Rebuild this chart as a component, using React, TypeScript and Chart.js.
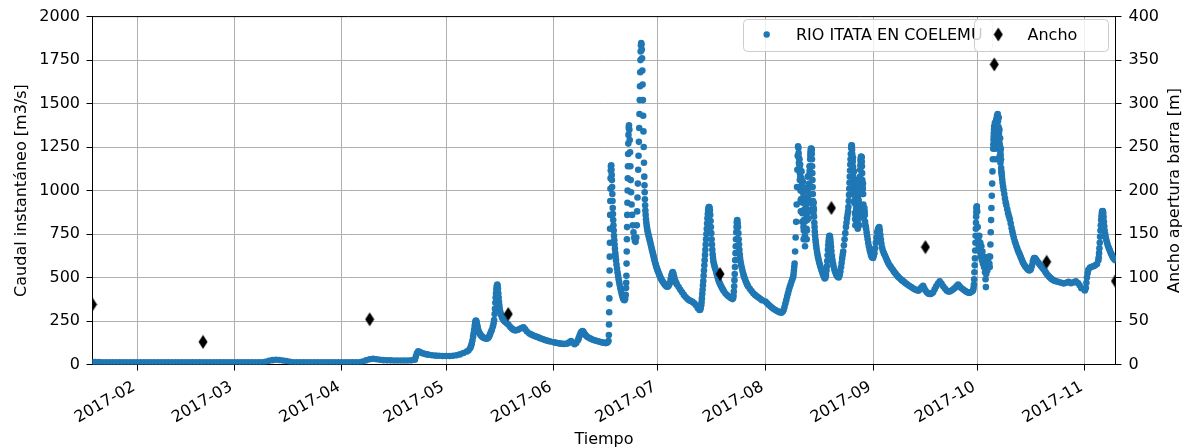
import React, { useEffect, useRef } from 'react';
import { Chart, registerables } from 'chart.js';

Chart.register(...registerables);

const DAY = 86400000;
const FONT = "'DejaVu Sans', sans-serif";
const AZUL = '#1f77b4';

// Caudal instantáneo, RIO ITATA EN COELEMU [m3/s]; pares [día del mes, caudal]
const caudalEnero: [number, number][] = [
  [19.2, 14], [20, 14], [21, 14], [22, 13], [23, 13], [24, 13], [25, 13], [26, 12], [27, 12], [28, 12], [29, 12], [30, 12], [31, 12],
];
const caudalFebrero: [number, number][] = [
  [1, 12], [2, 12], [3, 12], [4, 12], [5, 12], [6, 12], [7, 12], [8, 12], [9, 12], [10, 12], [11, 12], [12, 12], [13, 12], [14, 12],
  [15, 12], [16, 12], [17, 12], [18, 12], [19, 12], [20, 12], [21, 12], [22, 12], [23, 12], [24, 12], [25, 12], [26, 12], [27, 12], [28, 12],
];
const caudalMarzo: [number, number][] = [
  [1, 12], [2, 12], [3, 12], [4, 12], [5, 12], [6, 12], [7, 12], [8, 12], [9, 12], [10, 16], [11, 21], [12, 25], [13, 27], [14, 26],
  [15, 23], [16, 20], [17, 16], [18, 13], [19, 13], [20, 13], [21, 13], [22, 13], [23, 13], [24, 13], [25, 13], [26, 13], [27, 13],
  [28, 13], [29, 13], [30, 13], [31, 13],
];
const caudalAbril: [number, number][] = [
  [1, 13], [2, 13], [3, 13], [4, 13], [5, 13], [6, 13], [7, 17], [8, 24], [9, 30], [10, 33], [11, 30], [12, 27], [13, 25], [14, 24],
  [15, 24], [16, 23], [17, 23], [18, 23], [19, 23], [20, 23], [21, 24], [22, 28], [22.3, 45], [22.6, 65], [23, 76], [23.5, 72],
  [24, 66], [24.5, 63], [25, 60], [25.5, 58], [26, 56], [27, 53], [28, 51], [29, 50], [30, 49],
];
const caudalMayo: [number, number][] = [
  [1, 49], [2, 49], [3, 50], [4, 53], [5, 58], [6, 66], [7, 75], [7.5, 82], [8, 95], [8.2, 106], [8.4, 120], [8.6, 138], [8.8, 160],
  [8.95, 180], [9.1, 200], [9.25, 222], [9.4, 240], [9.5, 248], [9.6, 252], [9.7, 250], [9.8, 242], [9.9, 232], [10, 222],
  [10.1, 212], [10.25, 200], [10.4, 190], [10.6, 182], [10.8, 175], [11, 168], [11.25, 163], [11.5, 158], [11.75, 155], [12, 152],
  [12.35, 150], [12.7, 148], [13, 151], [13.2, 155], [13.45, 163], [13.7, 175], [13.95, 188], [14.2, 200], [14.5, 218],
  [14.7, 235], [14.85, 255], [15, 290], [15.1, 320], [15.2, 355], [15.3, 385], [15.4, 410], [15.5, 432], [15.6, 450],
  [15.75, 460], [15.85, 452], [15.95, 435], [16.05, 410], [16.15, 385], [16.25, 360], [16.35, 340], [16.45, 322], [16.6, 305],
  [16.8, 290], [17, 278], [17.2, 268], [17.4, 261], [17.6, 255], [17.8, 250], [18, 246], [18.5, 237], [19, 228], [19.5, 216],
  [20, 206], [20.5, 199], [21, 196], [21.5, 198], [22, 202], [22.7, 210], [23.3, 214], [23.8, 202], [24.3, 190], [25, 178],
  [25.5, 173], [26, 168], [26.5, 164], [27, 160], [27.5, 156], [28, 152], [28.5, 148], [29, 145], [29.5, 141], [30, 138],
  [30.5, 135], [31, 132],
];
const caudalJunio: [number, number][] = [
  [1, 128], [1.5, 126], [2, 124], [2.5, 122], [3, 120], [3.5, 119], [4, 118], [4.5, 119], [5, 121], [5.5, 127], [6, 135],
  [6.5, 126], [7, 117], [7.5, 123], [8, 140], [8.25, 153], [8.5, 168], [8.75, 180], [9, 188], [9.3, 193], [9.5, 189], [9.7, 182],
  [10, 173], [10.2, 168], [10.6, 161], [11, 155], [11.5, 150], [12, 145], [12.5, 141], [13, 138], [13.5, 135], [14, 132],
  [14.5, 129], [15, 127], [15.5, 125], [16, 123], [16.5, 126], [16.8, 135], [16.9, 170], [16.95, 230], [17, 300], [17.04, 380],
  [17.08, 460], [17.12, 540], [17.16, 620], [17.2, 700], [17.24, 780], [17.28, 860], [17.32, 940], [17.36, 1010], [17.4, 1070],
  [17.45, 1115], [17.5, 1140], [17.58, 1145], [17.66, 1120], [17.72, 1090], [17.78, 1060], [17.84, 1020], [17.9, 980],
  [17.96, 940], [18.02, 900], [18.08, 865], [18.15, 830], [18.22, 800], [18.3, 770], [18.38, 740], [18.46, 715], [18.55, 690],
  [18.65, 665], [18.75, 640], [18.85, 620], [18.95, 600], [19.1, 575], [19.25, 552], [19.4, 530], [19.55, 510], [19.7, 492],
  [19.85, 475], [20, 458], [20.2, 440], [20.4, 422], [20.6, 405], [20.8, 392], [21, 380], [21.2, 372], [21.4, 370], [21.6, 378],
  [21.75, 400], [21.85, 440], [21.9, 470], [21.95, 510], [22, 580], [22.05, 650], [22.1, 720], [22.15, 790], [22.2, 860],
  [22.25, 930], [22.3, 1000], [22.35, 1070], [22.4, 1140], [22.45, 1210], [22.5, 1270], [22.55, 1320], [22.62, 1360],
  [22.7, 1375], [22.8, 1350], [22.9, 1290], [23, 1220], [23.1, 1140], [23.2, 1060], [23.3, 990], [23.45, 920], [23.6, 860],
  [23.8, 800], [24, 760], [24.2, 730], [24.4, 712], [24.6, 705], [24.8, 730], [24.95, 800], [25.05, 880], [25.15, 960],
  [25.25, 1040], [25.35, 1120], [25.45, 1200], [25.55, 1280], [25.65, 1360], [25.72, 1440], [25.8, 1520], [25.87, 1600],
  [25.94, 1680], [26, 1750], [26.07, 1800], [26.14, 1835], [26.22, 1848], [26.3, 1840], [26.38, 1810], [26.46, 1760],
  [26.54, 1690], [26.62, 1610], [26.7, 1520], [26.78, 1430], [26.86, 1340], [26.94, 1250], [27.02, 1160], [27.1, 1080],
  [27.16, 1030], [27.22, 990], [27.28, 950], [27.35, 915], [27.42, 885], [27.5, 860], [27.6, 835], [27.7, 815], [27.8, 798],
  [27.9, 785], [28, 772], [28.15, 758], [28.3, 745], [28.45, 732], [28.6, 720], [28.75, 708], [28.9, 695], [29.05, 682],
  [29.2, 670], [29.35, 657], [29.5, 645], [29.65, 633], [29.8, 620], [29.95, 608], [30.1, 595], [30.25, 585], [30.4, 574],
  [30.55, 564], [30.7, 555], [30.85, 546],
];
const caudalJulio: [number, number][] = [
  [1, 538], [1.2, 528], [1.4, 518], [1.6, 508], [1.8, 499], [2, 490], [2.25, 481], [2.5, 474], [2.75, 467], [3, 460], [3.25, 454],
  [3.5, 448], [3.75, 447], [4, 450], [4.25, 458], [4.5, 470], [4.7, 490], [4.9, 510], [5.1, 525], [5.3, 531], [5.5, 522],
  [5.7, 505], [5.9, 488], [6.1, 477], [6.3, 468], [6.5, 460], [7, 445], [7.5, 430], [8, 415], [8.5, 400], [9, 388], [9.5, 378],
  [10, 370], [10.5, 365], [11, 360], [11.5, 352], [12, 340], [12.5, 325], [13, 313], [13.2, 315], [13.35, 325], [13.5, 340],
  [13.6, 358], [13.7, 380], [13.8, 405], [13.9, 430], [14, 455], [14.1, 480], [14.2, 510], [14.3, 540], [14.4, 570], [14.5, 600],
  [14.6, 630], [14.7, 660], [14.8, 690], [14.9, 720], [15, 750], [15.1, 780], [15.2, 810], [15.3, 840], [15.4, 865], [15.5, 885],
  [15.6, 898], [15.7, 905], [15.8, 905], [15.9, 900], [16, 885], [16.1, 860], [16.2, 825], [16.3, 790], [16.4, 755], [16.5, 720],
  [16.6, 690], [16.7, 660], [16.8, 634], [16.9, 612], [17, 595], [17.15, 580], [17.3, 568], [17.45, 558], [17.6, 548],
  [17.8, 533], [18, 518], [18.2, 503], [18.4, 490], [18.6, 478], [18.8, 468], [19, 460], [19.25, 450], [19.5, 440],
  [19.75, 431], [20, 422], [20.5, 408], [21, 398], [21.5, 390], [22, 383], [22.5, 376], [22.7, 382], [22.8, 395], [22.9, 420],
  [23, 450], [23.08, 485], [23.15, 520], [23.22, 560], [23.3, 600], [23.38, 640], [23.45, 680], [23.52, 720], [23.6, 760],
  [23.68, 790], [23.75, 815], [23.82, 826], [23.9, 830], [24, 812], [24.1, 790], [24.2, 755], [24.3, 720], [24.4, 690],
  [24.5, 660], [24.6, 633], [24.7, 610], [24.85, 590], [25, 572], [25.2, 555], [25.4, 538], [25.6, 522], [25.8, 508], [26, 496],
  [26.25, 482], [26.5, 470], [26.75, 459], [27, 450], [27.5, 435], [28, 422], [28.5, 410], [29, 400], [29.5, 392], [30, 385],
  [30.5, 378], [31, 370],
];
const caudalAgosto: [number, number][] = [
  [1, 362], [1.5, 352], [2, 342], [2.5, 333], [3, 325], [3.5, 318], [4, 312], [4.5, 306], [5, 301], [5.6, 298], [6, 305],
  [6.25, 315], [6.5, 330], [6.75, 350], [7, 370], [7.25, 390], [7.5, 410], [7.75, 428], [8, 445], [8.25, 460], [8.5, 475],
  [8.75, 490], [9, 505], [9.1, 520], [9.2, 540], [9.3, 560], [9.4, 580], [9.55, 650], [9.7, 730], [9.85, 820], [10, 920],
  [10.1, 1020], [10.2, 1120], [10.3, 1200], [10.4, 1255], [10.5, 1245], [10.55, 1215], [10.6, 1190], [10.65, 1160],
  [10.7, 1120], [10.75, 1150], [10.8, 1180], [10.85, 1130], [10.9, 1060], [10.95, 1100], [11, 1150], [11.05, 1080], [11.1, 1000],
  [11.15, 940], [11.2, 880], [11.25, 950], [11.3, 1020], [11.35, 1070], [11.4, 1110], [11.45, 1030], [11.5, 950], [11.55, 880],
  [11.6, 820], [11.65, 870], [11.7, 930], [11.75, 990], [11.8, 1050], [11.85, 960], [11.9, 880], [11.95, 790], [12, 720],
  [12.05, 770], [12.1, 830], [12.15, 890], [12.2, 960], [12.25, 880], [12.3, 820], [12.35, 740], [12.4, 680], [12.45, 720],
  [12.5, 770], [12.55, 830], [12.6, 900], [12.65, 950], [12.7, 1000], [12.75, 920], [12.8, 860], [12.85, 780], [12.9, 720],
  [12.95, 770], [13, 830], [13.05, 890], [13.1, 960], [13.15, 1020], [13.2, 1080], [13.25, 1010], [13.3, 960], [13.35, 890],
  [13.4, 840], [13.45, 880], [13.5, 930], [13.55, 980], [13.6, 1040], [13.65, 1090], [13.7, 1140], [13.75, 1115], [13.8, 1100],
  [13.85, 1140], [13.9, 1180], [13.95, 1200], [14, 1215], [14.05, 1225], [14.1, 1235], [14.15, 1240], [14.2, 1242],
  [14.25, 1238], [14.3, 1232], [14.35, 1210], [14.4, 1180], [14.45, 1140], [14.5, 1100], [14.55, 1060], [14.6, 1020],
  [14.65, 980], [14.7, 940], [14.75, 905], [14.8, 870], [14.85, 900], [14.9, 930], [14.95, 890], [15, 850], [15.08, 815],
  [15.15, 790], [15.22, 765], [15.3, 742], [15.4, 720], [15.5, 702], [15.6, 685], [15.7, 668], [15.85, 648], [16, 632],
  [16.15, 616], [16.3, 602], [16.5, 586], [16.7, 572], [16.9, 558], [17.1, 546], [17.3, 534], [17.5, 522], [17.7, 512],
  [17.9, 503], [18.1, 495], [18.3, 500], [18.45, 515], [18.6, 540], [18.7, 565], [18.8, 595], [18.9, 628], [19, 660],
  [19.1, 686], [19.2, 708], [19.3, 726], [19.4, 738], [19.5, 740], [19.6, 735], [19.7, 718], [19.8, 700], [19.9, 676], [20, 652],
  [20.15, 625], [20.3, 602], [20.45, 582], [20.6, 566], [20.8, 550], [21, 538], [21.2, 527], [21.4, 518], [21.6, 510],
  [21.8, 505], [22.1, 500], [22.4, 515], [22.6, 535], [22.8, 560], [22.95, 585], [23.1, 610], [23.25, 630], [23.4, 650],
  [23.6, 685], [23.8, 720], [24, 755], [24.2, 790], [24.35, 815], [24.5, 840], [24.65, 860], [24.8, 880], [24.9, 905], [25, 940],
  [25.08, 975], [25.15, 1010], [25.22, 1045], [25.3, 1080], [25.38, 1115], [25.45, 1150], [25.52, 1180], [25.6, 1210],
  [25.7, 1245], [25.8, 1260], [25.85, 1258], [25.9, 1255], [25.95, 1235], [26, 1210], [26.05, 1175], [26.1, 1140],
  [26.15, 1165], [26.2, 1190], [26.25, 1135], [26.3, 1080], [26.35, 1035], [26.4, 990], [26.45, 1050], [26.5, 1110],
  [26.55, 1020], [26.6, 930], [26.65, 975], [26.7, 1020], [26.75, 945], [26.8, 870], [26.85, 835], [26.9, 800], [26.95, 860],
  [27, 920], [27.05, 875], [27.1, 830], [27.15, 895], [27.2, 960], [27.25, 1010], [27.3, 1060], [27.35, 995], [27.4, 930],
  [27.45, 875], [27.5, 820], [27.55, 800], [27.6, 780], [27.65, 840], [27.7, 900], [27.75, 950], [27.8, 1000], [27.85, 940],
  [27.9, 880], [27.95, 840], [28, 800], [28.05, 860], [28.1, 920], [28.15, 980], [28.2, 1040], [28.25, 1080], [28.3, 1120],
  [28.35, 1145], [28.4, 1170], [28.45, 1180], [28.5, 1190], [28.55, 1193], [28.6, 1195], [28.65, 1193], [28.7, 1190],
  [28.75, 1165], [28.8, 1140], [28.85, 1100], [28.9, 1060], [28.95, 1020], [29, 980], [29.05, 1010], [29.1, 1040],
  [29.15, 980], [29.2, 920], [29.25, 900], [29.3, 880], [29.35, 865], [29.4, 850], [29.45, 875], [29.5, 900], [29.55, 880],
  [29.6, 860], [29.7, 820], [29.8, 800], [29.9, 790], [30, 780], [30.15, 760], [30.3, 740], [30.45, 720], [30.6, 700],
  [30.8, 680], [31, 660], [31.2, 645], [31.4, 630], [31.6, 620], [31.8, 615],
];
const caudalSeptiembre: [number, number][] = [
  [1, 612], [1.2, 625], [1.4, 640], [1.6, 668], [1.8, 700], [2, 730], [2.2, 760], [2.4, 776], [2.6, 786], [2.8, 790],
  [2.95, 772], [3.1, 745], [3.25, 718], [3.4, 695], [3.6, 673], [3.8, 655], [4.1, 640], [4.4, 628], [4.7, 614], [5, 600],
  [5.3, 587], [5.6, 575], [6, 564], [6.3, 555], [6.7, 544], [7, 535], [7.3, 527], [7.6, 520], [7.9, 512], [8.2, 505], [8.6, 497],
  [9, 490], [9.3, 485], [9.6, 480], [9.9, 475], [10.2, 470], [10.6, 464], [11, 458], [11.5, 451], [12, 445], [12.5, 438],
  [13, 432], [13.5, 428], [14, 424], [14.35, 430], [14.7, 438], [15.05, 445], [15.4, 452], [15.75, 438], [16.1, 425],
  [16.5, 415], [16.9, 408], [17.25, 405], [17.6, 405], [17.95, 410], [18.3, 415], [18.75, 432], [19.2, 450], [19.7, 466],
  [20.2, 478], [20.7, 465], [21.2, 450], [21.7, 437], [22.2, 425], [22.65, 420], [23.1, 420], [23.6, 425], [24.1, 432],
  [24.55, 440], [25, 450], [25.5, 460], [25.95, 450], [26.4, 440], [26.9, 432], [27.4, 425], [27.8, 420], [28.2, 415],
  [28.55, 413], [28.9, 412], [29.4, 418], [29.8, 425], [29.95, 440], [30.05, 460], [30.12, 490], [30.2, 530], [30.28, 570],
  [30.35, 610], [30.42, 655], [30.5, 700], [30.55, 740], [30.6, 780], [30.65, 815], [30.7, 850], [30.75, 875], [30.8, 895],
  [30.85, 905], [30.9, 910],
];
const caudalOctubre: [number, number][] = [
  [1, 880], [1.15, 790], [1.3, 720], [1.45, 680], [1.6, 740], [1.75, 650], [1.9, 700], [2.05, 620], [2.2, 680], [2.35, 600],
  [2.5, 650], [2.65, 580], [2.8, 620], [2.95, 560], [3.1, 600], [3.25, 530], [3.4, 490], [3.5, 445], [3.6, 520], [3.75, 580],
  [3.9, 540], [4.05, 600], [4.2, 560], [4.35, 620], [4.5, 580], [4.6, 560], [4.7, 620], [4.8, 690], [4.9, 760], [5, 830],
  [5.1, 900], [5.2, 970], [5.3, 1040], [5.4, 1110], [5.5, 1180], [5.6, 1240], [5.65, 1265], [5.7, 1290], [5.75, 1310],
  [5.8, 1330], [5.85, 1350], [5.9, 1370], [5.95, 1330], [6, 1300], [6.05, 1350], [6.1, 1390], [6.15, 1310], [6.2, 1240],
  [6.25, 1295], [6.3, 1340], [6.35, 1255], [6.4, 1180], [6.45, 1300], [6.5, 1410], [6.55, 1345], [6.6, 1290], [6.65, 1365],
  [6.7, 1430], [6.75, 1390], [6.8, 1360], [6.85, 1405], [6.9, 1440], [6.95, 1415], [7, 1400], [7.05, 1345], [7.1, 1300],
  [7.15, 1365], [7.2, 1420], [7.25, 1330], [7.3, 1250], [7.35, 1305], [7.4, 1350], [7.45, 1270], [7.5, 1200], [7.55, 1255],
  [7.6, 1300], [7.65, 1225], [7.7, 1160], [7.75, 1205], [7.8, 1240], [7.85, 1180], [7.9, 1130], [7.95, 1110], [8, 1100],
  [8.1, 1085], [8.2, 1065], [8.3, 1045], [8.45, 1025], [8.6, 1005], [8.8, 980], [9, 955], [9.2, 932], [9.4, 915], [9.65, 892],
  [9.9, 870], [10.15, 852], [10.4, 835], [10.65, 810], [10.9, 785], [11.1, 766], [11.3, 748], [11.55, 728], [11.8, 710],
  [12.05, 695], [12.3, 680], [12.55, 666], [12.8, 652], [13.05, 641], [13.3, 630], [13.55, 617], [13.8, 605], [14, 595],
  [14.2, 585], [14.5, 575], [14.8, 565], [15.1, 557], [15.4, 550], [15.7, 545], [16, 540], [16.25, 543], [16.5, 550],
  [16.75, 568], [17, 590], [17.2, 603], [17.4, 612], [17.6, 612], [17.8, 608], [18.05, 600], [18.3, 592], [18.65, 584],
  [19, 575], [19.35, 566], [19.7, 558], [20.05, 549], [20.4, 540], [20.7, 531], [21, 522], [21.35, 513], [21.7, 505],
  [22.05, 498], [22.4, 492], [22.75, 487], [23.1, 483], [23.45, 480], [23.8, 478], [24.5, 474], [25.2, 470], [25.9, 466],
  [26.6, 470], [27.3, 476], [28, 467], [28.7, 472], [29.4, 478], [30, 468], [30.5, 455], [31, 438],
];
const caudalNoviembre: [number, number][] = [
  [1, 425], [1.3, 440], [1.45, 470], [1.6, 500], [1.8, 525], [2, 545], [2.5, 558], [3, 562], [3.5, 565], [4, 570], [4.5, 578],
  [4.9, 600], [5, 615], [5.1, 640], [5.2, 668], [5.3, 700], [5.4, 735], [5.5, 770], [5.6, 800], [5.7, 830], [5.8, 852],
  [5.9, 870], [6, 880], [6.1, 882], [6.2, 880], [6.3, 870], [6.4, 848], [6.5, 820], [6.6, 795], [6.7, 770], [6.85, 750],
  [7, 732], [7.2, 715], [7.4, 700], [7.6, 687], [7.8, 675], [8, 665], [8.2, 655], [8.4, 645], [8.6, 636], [8.8, 628], [9, 620],
  [9.2, 614], [9.4, 608], [9.6, 603], [9.8, 600],
];

// mes (0 = enero) de cada serie mensual
const seriesMensuales: [number, [number, number][]][] = [
  [0, caudalEnero], [1, caudalFebrero], [2, caudalMarzo], [3, caudalAbril], [4, caudalMayo], [5, caudalJunio],
  [6, caudalJulio], [7, caudalAgosto], [8, caudalSeptiembre], [9, caudalOctubre], [10, caudalNoviembre],
];

// Ancho de apertura de la barra [m]
const fechasAncho = [
  '2017-01-19T04:00Z', '2017-02-20T00:00Z', '2017-04-09T00:00Z', '2017-05-18T22:00Z', '2017-07-18T22:00Z',
  '2017-08-20T00:00Z', '2017-09-16T02:00Z', '2017-10-05T22:00Z', '2017-10-21T00:00Z', '2017-11-09T20:00Z',
];
const valoresAncho = [69, 26, 52, 58, 104, 180, 135, 345, 118, 96];

const etiquetasMes = [
  '2017-02', '2017-03', '2017-04', '2017-05', '2017-06', '2017-07', '2017-08', '2017-09', '2017-10', '2017-11',
];

const nombreSerie = 'RIO ITATA EN COELEMU';
const nombreAncho = 'Ancho';
const tituloX = 'Tiempo';
const tituloY = 'Caudal instantáneo [m3/s]';
const tituloY2 = 'Ancho apertura barra [m]';

function rombo(): HTMLCanvasElement {
  const c = document.createElement('canvas');
  c.width = 10;
  c.height = 15;
  const g = c.getContext('2d')!;
  g.fillStyle = '#000';
  g.beginPath();
  g.moveTo(5, 0.5);
  g.lineTo(9.5, 7.5);
  g.lineTo(5, 14.5);
  g.lineTo(0.5, 7.5);
  g.closePath();
  g.fill();
  return c;
}

function caja(ctx: CanvasRenderingContext2D, x: number, y: number, w: number, h: number) {
  ctx.beginPath();
  ctx.roundRect(x, y, w, h, 4);
  ctx.fillStyle = 'rgba(255,255,255,0.8)';
  ctx.fill();
  ctx.strokeStyle = '#cccccc';
  ctx.lineWidth = 1;
  ctx.stroke();
}

export default function App() {
  const ref = useRef<HTMLCanvasElement>(null);

  useEffect(() => {
    const canvas = ref.current;
    if (!canvas) return;
    const marcaAncho = rombo();

    const puntosCaudal = seriesMensuales.flatMap(([m, datos]) =>
      datos.map(([d, v]) => ({ x: Date.UTC(2017, m, 1) + (d - 1) * DAY, y: v }))
    );
    const puntosAncho = fechasAncho.map((f, i) => ({ x: Date.parse(f), y: valoresAncho[i] }));
    const ticksMes = etiquetasMes.map((e) => Date.parse(e + '-01T00:00:00Z'));

    const decoracion = {
      id: 'decoracion',
      afterDraw(chart: Chart) {
        const { ctx, chartArea: a } = chart;
        ctx.save();
        // borde superior del área de trazado
        ctx.strokeStyle = '#000';
        ctx.lineWidth = 1;
        ctx.beginPath();
        ctx.moveTo(a.left, a.top);
        ctx.lineTo(a.right, a.top);
        ctx.stroke();

        // títulos de ejes
        ctx.fillStyle = '#000';
        ctx.font = `16px ${FONT}`;
        ctx.textAlign = 'center';
        ctx.textBaseline = 'alphabetic';
        const cy = (a.top + a.bottom) / 2;
        ctx.fillText(tituloX, (a.left + a.right) / 2, 443.5);
        ctx.save();
        ctx.translate(26, cy);
        ctx.rotate(-Math.PI / 2);
        ctx.fillText(tituloY, 0, 0);
        ctx.restore();
        ctx.save();
        ctx.translate(1179, cy);
        ctx.rotate(-Math.PI / 2);
        ctx.fillText(tituloY2, 0, 0);
        ctx.restore();

        // leyenda del caudal
        ctx.textAlign = 'left';
        caja(ctx, 743.5, 19.5, 249, 32);
        ctx.fillStyle = AZUL;
        ctx.beginPath();
        ctx.arc(766.7, 34.5, 3.2, 0, Math.PI * 2);
        ctx.fill();
        ctx.fillStyle = '#000';
        ctx.fillText(nombreSerie, 796, 40);

        // leyenda del ancho
        caja(ctx, 974.5, 19.5, 134, 32);
        ctx.drawImage(marcaAncho, 998.3 - 5, 34.5 - 7.5);
        ctx.fillStyle = '#000';
        ctx.fillText(nombreAncho, 1027.5, 40);
        ctx.restore();
      },
    };

    const chart = new Chart(canvas, {
      type: 'scatter',
      data: {
        datasets: [
          {
            label: nombreAncho,
            data: puntosAncho,
            yAxisID: 'y2',
            pointStyle: marcaAncho,
            pointRadius: 7,
            clip: 0,
            order: 0,
          },
          {
            label: nombreSerie,
            data: puntosCaudal,
            yAxisID: 'y',
            pointRadius: 3.3,
            pointBorderWidth: 0,
            pointBackgroundColor: AZUL,
            pointBorderColor: AZUL,
            clip: 0,
            order: 1,
          },
        ],
      },
      options: {
        responsive: false,
        animation: false,
        devicePixelRatio: 1,
        events: [],
        layout: { padding: { top: 12.5, left: 0, right: 0, bottom: 0 } },
        font: { family: FONT, size: 16 },
        plugins: { legend: { display: false }, tooltip: { enabled: false } },
        scales: {
          x: {
            type: 'linear',
            min: puntosAncho[0].x,
            max: puntosAncho[puntosAncho.length - 1].x,
            afterBuildTicks: (scale: any) => {
              scale.ticks = ticksMes.map((v) => ({ value: v }));
            },
            afterFit: (scale: any) => {
              scale.height = 448 - 364.5;
            },
            ticks: {
              autoSkip: false,
              minRotation: 30,
              maxRotation: 30,
              padding: 7,
              labelOffset: -3,
              color: '#000',
              font: { family: FONT, size: 16 },
              callback: (_v: any, i: number) => etiquetasMes[i],
            },
            grid: { color: '#b0b0b0', lineWidth: 1, tickLength: 6, tickColor: '#000', tickWidth: 1 },
            border: { display: true, color: '#000', width: 1 },
          },
          y: {
            position: 'left',
            min: 0,
            max: 2000,
            afterFit: (scale: any) => {
              scale.width = 92.5;
            },
            ticks: {
              stepSize: 250,
              padding: 6.5,
              color: '#000',
              font: { family: FONT, size: 16 },
              callback: (v: any) => String(v),
            },
            grid: { color: '#b0b0b0', lineWidth: 1, tickLength: 6, tickColor: '#000', tickWidth: 1 },
            border: { display: true, color: '#000', width: 1 },
          },
          y2: {
            position: 'right',
            min: 0,
            max: 400,
            afterFit: (scale: any) => {
              scale.width = 1186 - 1115.5;
            },
            ticks: {
              stepSize: 50,
              padding: 7,
              color: '#000',
              font: { family: FONT, size: 16 },
              callback: (v: any) => String(v),
            },
            grid: { drawOnChartArea: false, tickLength: 6, tickColor: '#000', tickWidth: 1 },
            border: { display: true, color: '#000', width: 1 },
          },
        },
      } as any,
      plugins: [decoracion as any],
    });

    return () => chart.destroy();
  }, []);

  return (
    <div style={{ position: 'fixed', left: 0, top: 0, width: 1186, height: 448, background: '#fff' }}>
      <canvas ref={ref} width={1186} height={448} style={{ display: 'block' }} />
    </div>
  );
}
